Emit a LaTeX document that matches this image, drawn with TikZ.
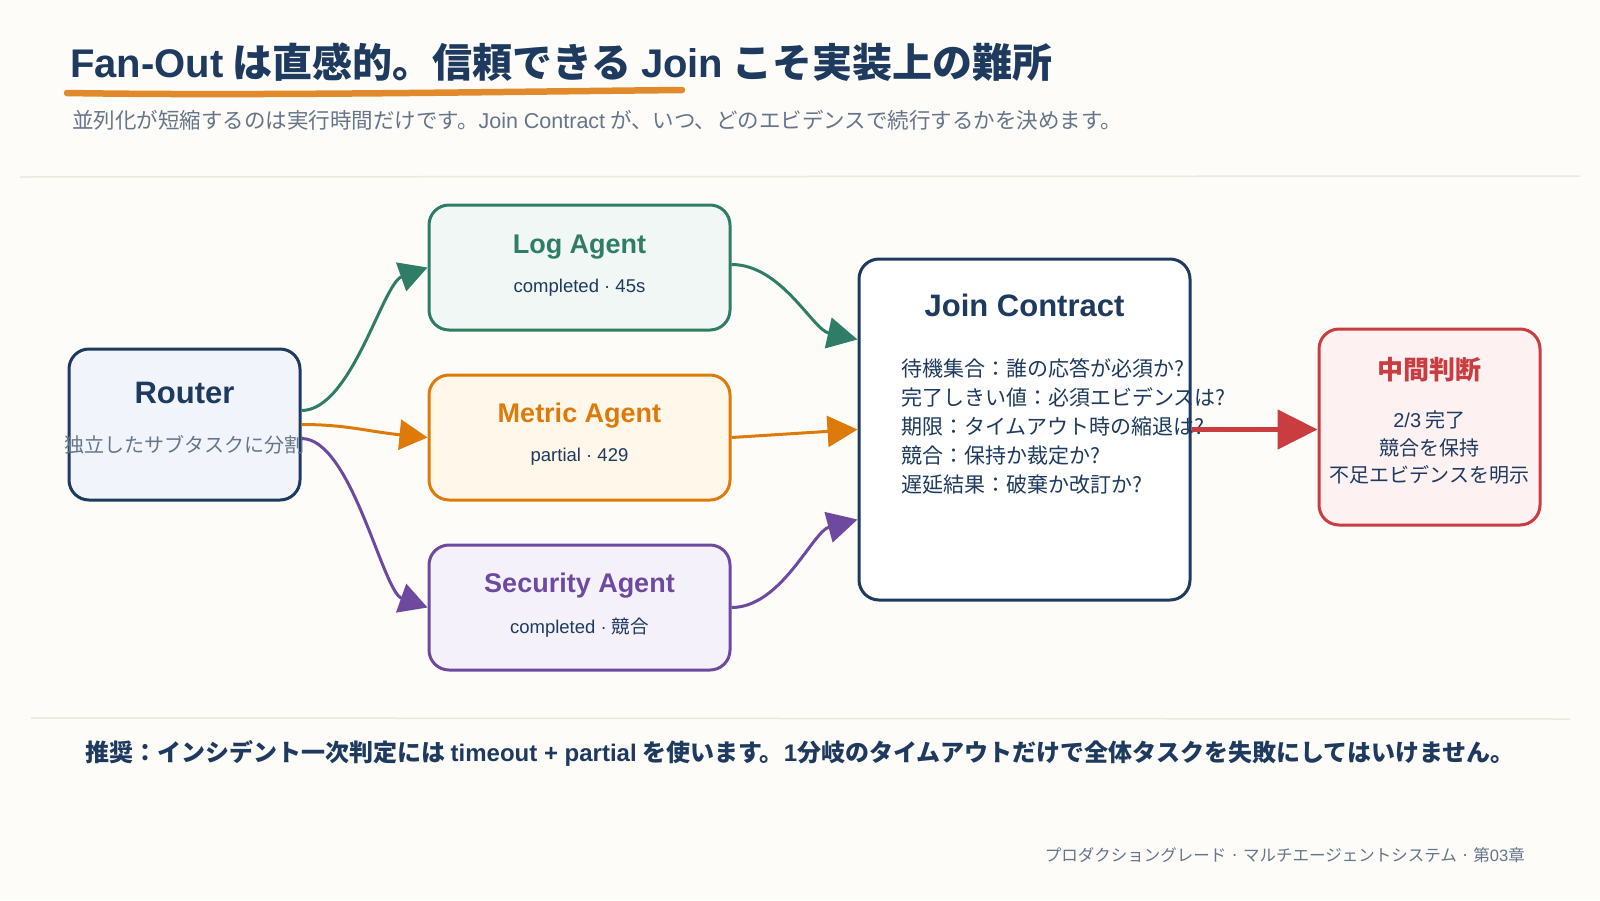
\documentclass[tikz,border=0pt]{standalone}
\usepackage{fontspec}
\setmainfont{Noto Sans CJK JP}
\newfontfamily\lat{Liberation Sans}
\usepackage{xcolor}
\usepackage{tikz}
\usetikzlibrary{arrows.meta, positioning, calc}
\definecolor{clrBg}{HTML}{FDFCF8}
\definecolor{clrRule}{HTML}{EBE8E0}
\definecolor{clrAccent}{HTML}{E08A2B}
\definecolor{clrNavy}{HTML}{1E3A5F}
\definecolor{clrNavyLight}{HTML}{F1F5FB}
\definecolor{clrSlate}{HTML}{66758A}
\definecolor{clrGreen}{HTML}{2F7D66}
\definecolor{clrGreenLight}{HTML}{F0F7F4}
\definecolor{clrOrange}{HTML}{DD7A0A}
\definecolor{clrOrangeLight}{HTML}{FFF7EA}
\definecolor{clrPurple}{HTML}{6D4AA0}
\definecolor{clrPurpleLight}{HTML}{F4F1FA}
\definecolor{clrRed}{HTML}{C93C40}
\definecolor{clrRedLight}{HTML}{FDF1F1}
\tikzset{
  card/.style={rectangle, rounded corners=20pt, line width=3pt, inner sep=0pt},
  router box/.style={card, draw=clrNavy, fill=clrNavyLight, minimum width=231pt, minimum height=151pt},
  agent box/.style={card, minimum width=301pt, minimum height=125pt},
  join box/.style={card, draw=clrNavy, fill=white, minimum width=331pt, minimum height=341pt},
  verdict box/.style={card, draw=clrRed, fill=clrRedLight, minimum width=221pt, minimum height=196pt},
  box title/.style={font=\lat\bfseries\fontsize{27}{32}\selectfont},
  box sub/.style={font=\lat\fontsize{18.5}{22}\selectfont, text=clrNavy},
  flow/.style={line width=3pt, -{Triangle[length=28pt, width=30pt]}},
  rule line/.style={draw=clrRule, line width=1.5pt},
}

\begin{document}
\begin{tikzpicture}[x=1pt, y=-1pt]
  \useasboundingbox (0,0) rectangle (1600,900);
  \fill[clrBg] (0,0) rectangle (1600,900);

  % Heading
  \node[anchor=base west, inner sep=0pt, text=clrNavy, font=\bfseries\fontsize{40}{46}\selectfont] (title) at (70,77) {{\lat Fan-Out} は直感的。信頼できる {\lat Join} こそ実装上の難所};
  \draw[line width=6.5pt, line cap=round, clrAccent] (67,93) .. controls (250,96) and (480,92) .. (682,90);
  \node[anchor=base west, inner sep=0pt, text=clrSlate, font=\fontsize{21.5}{26}\selectfont] (subtitle) at (72,128) {並列化が短縮するのは実行時間だけです。{\lat Join Contract} が、いつ、どのエビデンスで続行するかを決めます。};
  \draw[rule line] (20,177) -- (1580,176);

  % Router
  \node[router box] (router) at (184.5,424.5) {};
  \node[box title, text=clrNavy, font=\lat\bfseries\fontsize{31}{36}\selectfont] (routerT) at (184.5,393) {Router};
  \node[text=clrSlate, font=\fontsize{20}{24}\selectfont] (routerS) at (184.5,445) {独立したサブタスクに分割};

  % Agents
  \node[agent box, draw=clrGreen, fill=clrGreenLight] (log) at (579.5,267.5) {};
  \node[box title, text=clrGreen] (logT) at (579.5,247) {Log Agent};
  \node[box sub] (logS) at (579.5,288) {completed · 45s};

  \node[agent box, draw=clrOrange, fill=clrOrangeLight] (metric) at (579.5,437.5) {};
  \node[box title, text=clrOrange] (metricT) at (579.5,416) {Metric Agent};
  \node[box sub] (metricS) at (579.5,457) {partial · 429};

  \node[agent box, draw=clrPurple, fill=clrPurpleLight] (security) at (579.5,607.5) {};
  \node[box title, text=clrPurple] (securityT) at (579.5,586) {Security Agent};
  \node[box sub, font=\fontsize{18.5}{22}\selectfont] (securityS) at (579.5,628) {{\lat completed · }競合};

  % Join Contract
  \node[join box] (join) at (1024.5,429.5) {};
  \node[box title, text=clrNavy, font=\lat\bfseries\fontsize{31}{36}\selectfont] (joinT) at (1024.5,305) {Join Contract};
  \node[anchor=west, align=left, inner sep=0pt, text=clrNavy, font=\fontsize{21}{29}\selectfont] (joinL) at (901,426.5)
    {待機集合：誰の応答が必須か?\\完了しきい値：必須エビデンスは?\\期限：タイムアウト時の縮退は?\\競合：保持か裁定か?\\遅延結果：破棄か改訂か?};

  % Verdict
  \node[verdict box] (verdict) at (1429.5,427) {};
  \node[text=clrRed, font=\bfseries\fontsize{26}{30}\selectfont] (verdictT) at (1429.5,370) {中間判断};
  \node[align=center, text=clrNavy, font=\fontsize{20}{27.5}\selectfont] (verdictL) at (1429.5,447.5) {{\lat 2/3} 完了\\競合を保持\\不足エビデンスを明示};

  % Fan-out
  \draw[flow, clrGreen] ($(router.east)+(0,-14)$) .. controls +(50,0) and +(-45,16) .. (log.west);
  \draw[flow, clrOrange] (router.east) .. controls +(45,0) and +(-60,-6) .. (metric.west);
  \draw[flow, clrPurple] ($(router.east)+(0,14)$) .. controls +(50,0) and +(-45,-16) .. (security.west);

  % Join
  \draw[flow, clrGreen, -{Triangle[length=30pt, width=31pt]}] ($(log.east)+(0,-3)$) .. controls +(50,0) and +(-45,-10) .. ($(join.west)+(0,-90)$);
  \draw[flow, clrOrange, -{Triangle[length=30pt, width=31pt]}] (metric.east) -- (join.west);
  \draw[flow, clrPurple, -{Triangle[length=30pt, width=31pt]}] (security.east) .. controls +(50,0) and +(-45,12) .. ($(join.west)+(0,90)$);
  \draw[clrRed, line width=5pt, -{Triangle[length=40pt, width=39pt]}] (join.east) -- (join.east -| verdict.west);

  % Footer
  \draw[rule line] (31,718) -- (1570,719);
  \node[anchor=west, inner sep=0pt, text=clrNavy, font=\bfseries\fontsize{24}{28}\selectfont] (advice) at (85,753) {推奨：インシデント一次判定には {\lat timeout + partial} を使います。{\lat 1}分岐のタイムアウトだけで全体タスクを失敗にしてはいけません。};
  \node[anchor=east, inner sep=0pt, text=clrSlate, font=\fontsize{16.5}{20}\selectfont] (credit) at (1525,855) {プロダクショングレード · マルチエージェントシステム · 第{\lat 03}章};
\end{tikzpicture}
\end{document}
